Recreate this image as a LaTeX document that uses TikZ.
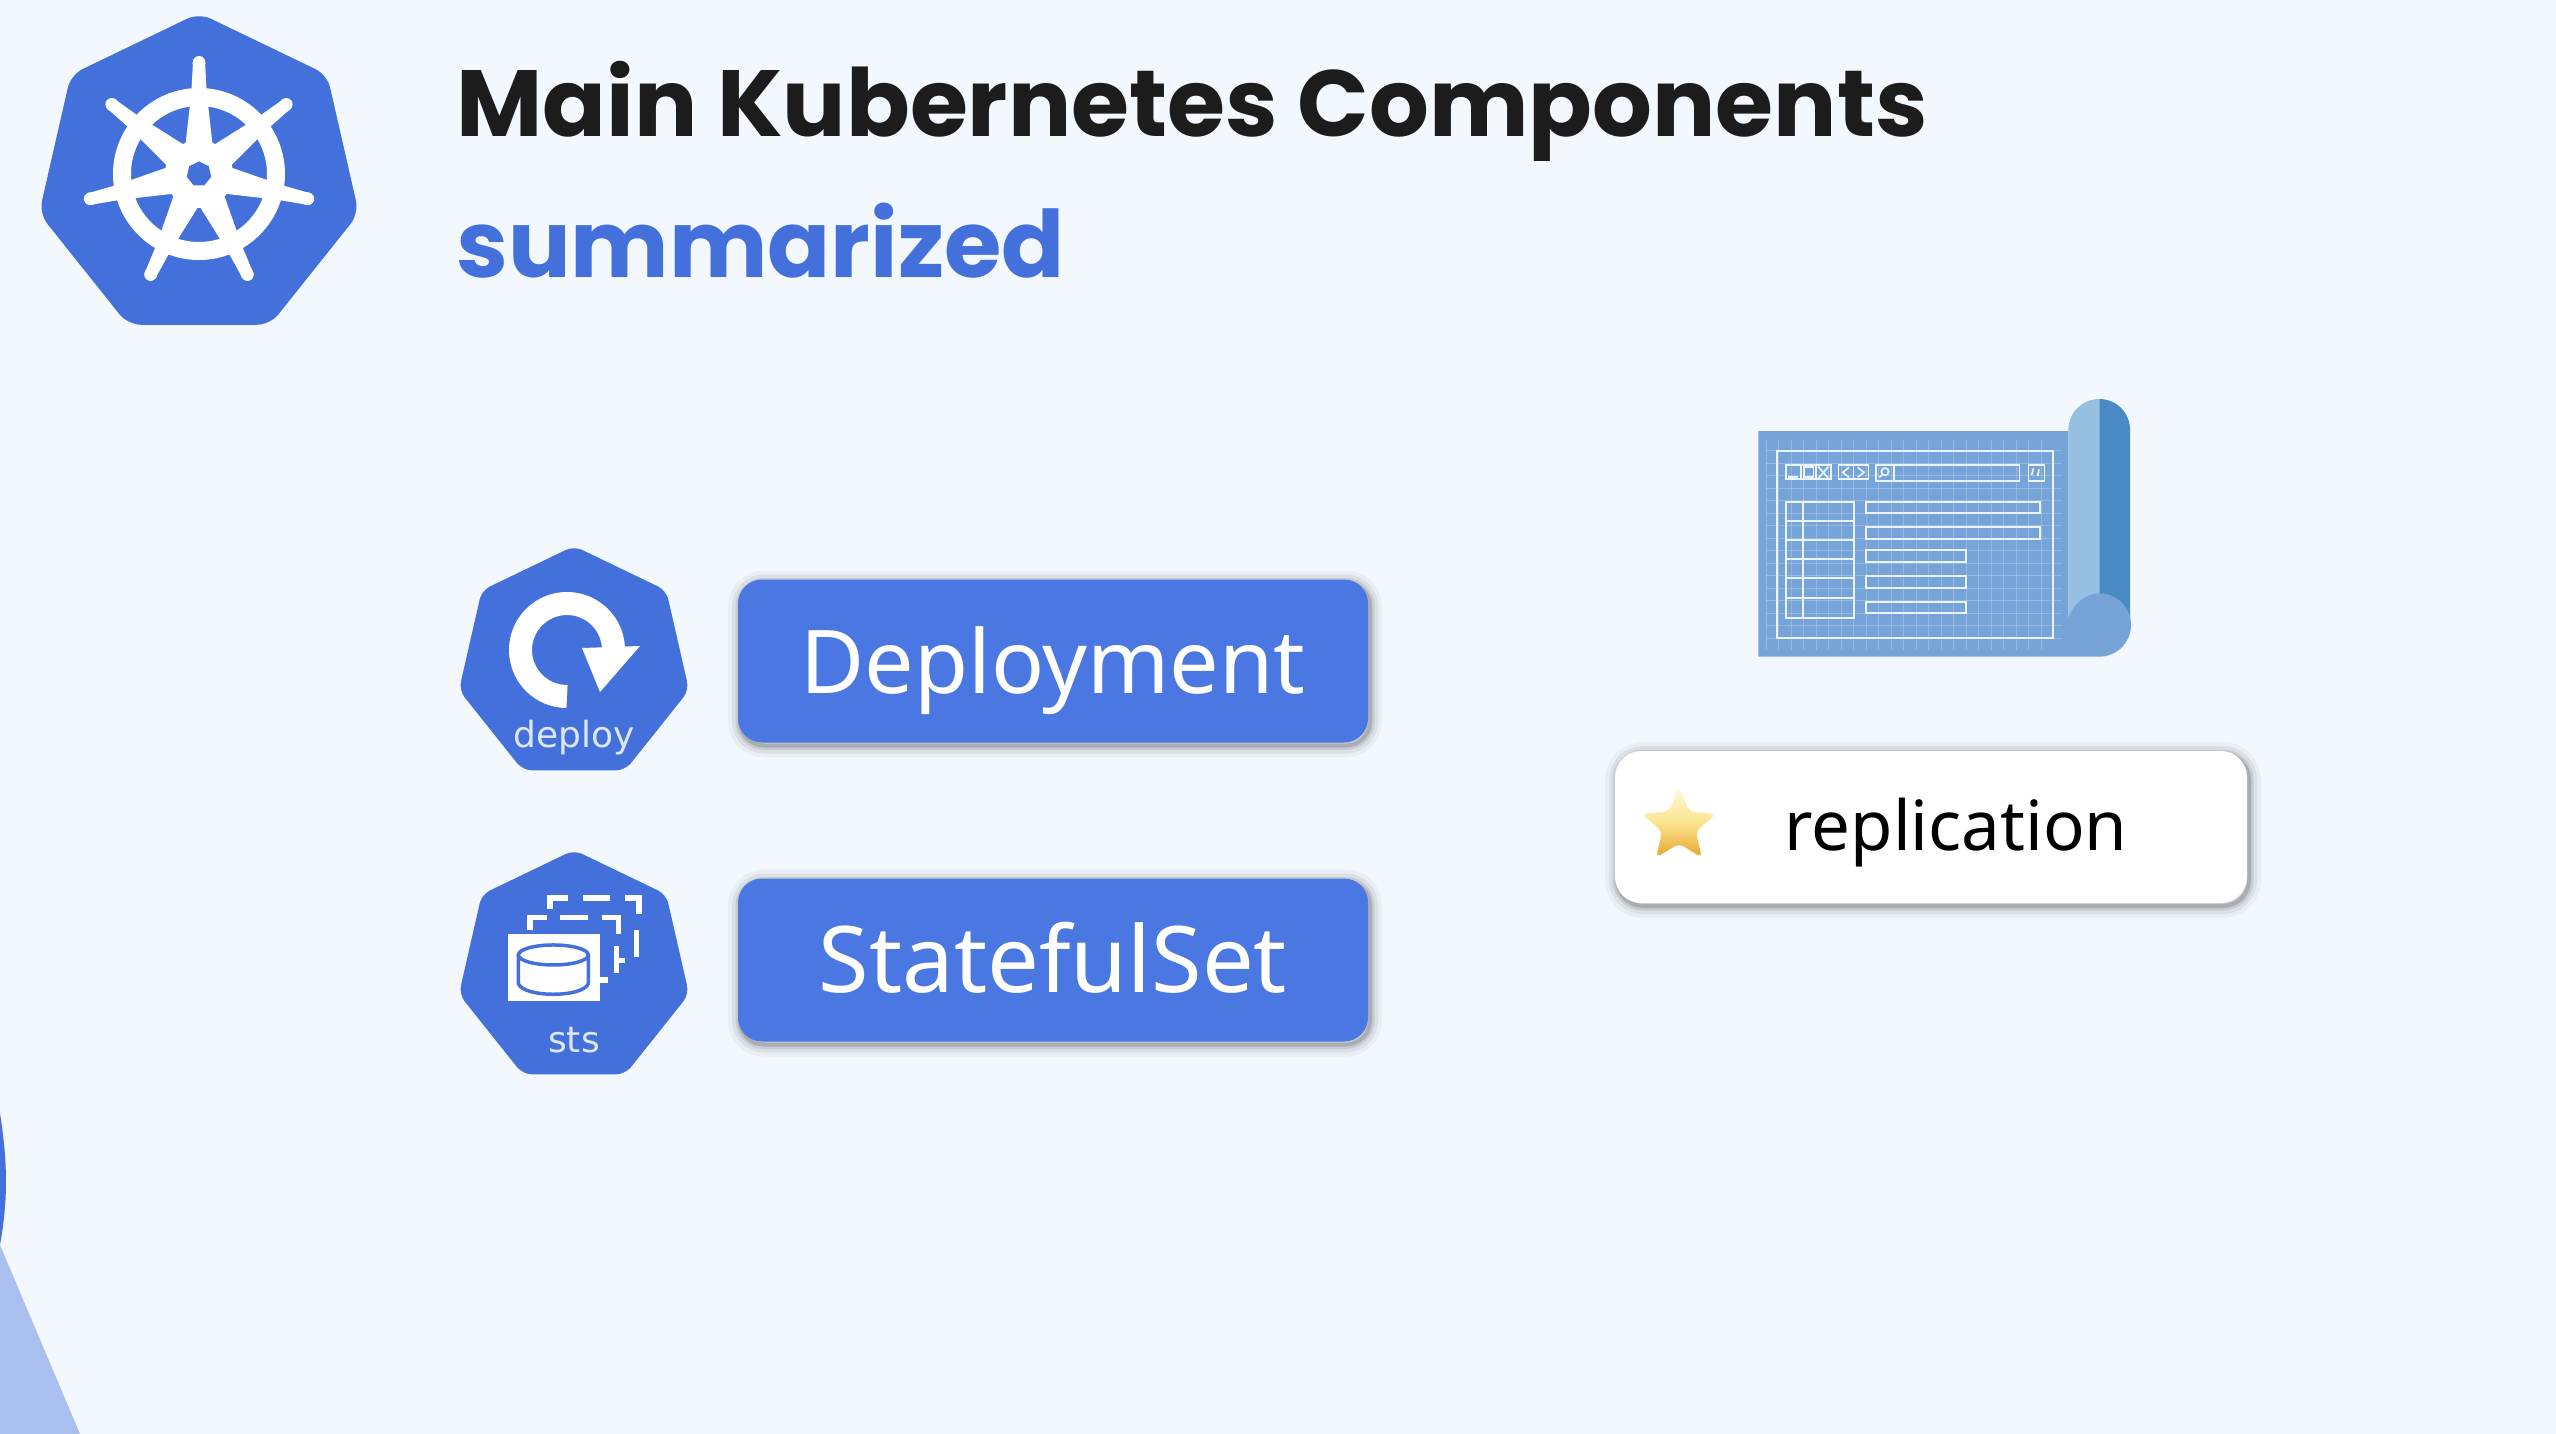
\documentclass[tikz,border=0pt]{standalone}
\usepackage{fontspec}
\usepackage{xcolor}
\usepackage{tikz}
\usetikzlibrary{positioning, calc, shapes.geometric}
\newfontfamily\titlefont{Poppins}
\newfontfamily\labelfont{Noto Sans}
\newfontfamily\iconfont{DejaVu Sans}
\definecolor{pagebg}{HTML}{F3F8FF}
\definecolor{kubeblue}{HTML}{4470DC}
\definecolor{btnblue}{HTML}{4A77E2}
\definecolor{titledark}{HTML}{1C1C1C}
\definecolor{iconlabel}{HTML}{DDE7FB}
\definecolor{sheetblue}{HTML}{76A3D8}
\definecolor{rolllight}{HTML}{95C0E0}
\definecolor{rolldark}{HTML}{4A8AC4}
\definecolor{gridline}{HTML}{EAF4FD}
\definecolor{sidelight}{HTML}{A9BFF0}
\definecolor{starpale}{HTML}{FDF9DC}
\definecolor{starmid}{HTML}{FBE58F}
\definecolor{stargold}{HTML}{E5A52B}
\tikzset{
	heptnode/.style={regular polygon, regular polygon sides=7, fill=kubeblue, inner sep=0pt, rounded corners=#1},
	softshadow/.style={
		preaction={draw=black, draw opacity=.04, line width=24pt, transform canvas={xshift=2pt, yshift=-3pt}},
		preaction={draw=black, draw opacity=.06, line width=16pt, transform canvas={xshift=2pt, yshift=-3pt}},
		preaction={draw=black, draw opacity=.09, line width=9pt, transform canvas={xshift=2pt, yshift=-3pt}},
		preaction={draw=black, draw opacity=.14, line width=4pt, transform canvas={xshift=2pt, yshift=-3pt}}},
	btnbox/.style={softshadow, rounded corners=24pt, fill=btnblue, text=white, inner sep=0pt, minimum width=630pt, minimum height=163pt, text height=70pt, text depth=5pt, font=\labelfont\fontsize{#1}{88}\selectfont},
	iconlabeltext/.style={text=iconlabel, inner sep=0pt, font=\iconfont\fontsize{36}{36}\selectfont},
	printline/.style={draw=gridline, line width=1.7pt},
	gridfaint/.style={draw=white, line width=1pt, opacity=.22},
	stsline/.style={draw=white, line width=5.5pt},
}
\begin{document}
\begin{tikzpicture}[x=1pt, y=-1pt]
	\fill[pagebg] (0,0) rectangle (2556,1434);
	\useasboundingbox (0,0) rectangle (2556,1434);

	\fill[kubeblue] (0,1113) .. controls (8,1165) and (8,1200) .. (0,1245) -- cycle;
	\fill[sidelight] (0,1245) -- (80,1434) -- (0,1434) -- cycle;

	\node[heptnode=13pt, minimum size=328pt] at (199,177) (logo) {};
	\begin{scope}[shift={(199,174)}]
		\draw[white, line width=18pt] (0,0) circle[radius=77];
		\fill[white] (0,0) circle[radius=34];
		\foreach \a in {0,...,6} {
			\begin{scope}[rotate=\a*360/7]
				\fill[white] (-14,-25) -- (-9,-70) -- (-7.5,-85) -- (-6,-112) arc[start angle=180, end angle=360, radius=6] -- (7.5,-85) -- (9,-70) -- (14,-25) -- cycle;
				\fill[white] (0,-111) circle[radius=6.5];
			\end{scope}
		}
	\end{scope}
	\node[regular polygon, regular polygon sides=7, fill=kubeblue, inner sep=0pt, minimum size=25pt] at (199,174) (hub) {};

	\node[anchor=base west, inner sep=0pt, text=titledark, font=\titlefont\bfseries\fontsize{94}{94}\selectfont] at (456,137) (title) {Main Kubernetes Components};
	\node[anchor=base west, inner sep=0pt, text=kubeblue, font=\titlefont\bfseries\fontsize{93}{93}\selectfont] at (456,277) (subtitle) {summarized};

	\node[heptnode=9pt, minimum size=236pt] at (574,664) (deploy) {};
	\draw[white, line width=23pt] ([shift={(90:46.5)}]567,650) arc[start angle=90, end angle=358, radius=46.5];
	\fill[white] (582,648) -- (640,646) -- (600,692) -- cycle;
	\node[iconlabeltext] at (574,738) (deploylabel) {deploy};

	\node[heptnode=9pt, minimum size=236pt] at (574,968) (sts) {};
	\begin{scope}[shift={(440,530)}, xscale=1/3, yscale=1/2.8]
		\draw[stsline] (270,1120) -- (270,1085) -- (320,1085);
		\draw[stsline] (360,1085) -- (445,1085);
		\draw[stsline] (485,1085) -- (535,1085) -- (535,1130);
		\draw[stsline] (530,1165) -- (530,1240);
		\draw[stsline] (530,1205) -- (555,1205);
		\draw[stsline] (480,1260) -- (505,1260);
		\draw[stsline] (330,1060) -- (330,1030) -- (385,1030);
		\draw[stsline] (430,1030) -- (510,1030);
		\draw[stsline] (555,1030) -- (597,1030) -- (597,1075);
		\draw[stsline] (590,1120) -- (590,1195);
		\fill[white] (205,1130) rectangle (480,1320);
		\draw[kubeblue, line width=3.5pt] (235,1190) -- (235,1270) .. controls (250,1310) and (430,1310) .. (445,1270) -- (445,1190);
		\draw[kubeblue, line width=3.5pt] (340,1190) ellipse[x radius=105, y radius=28];
	\end{scope}
	\node[iconlabeltext] at (574,1040) (stslabel) {sts};

	\node[btnbox=88] at (1053,661) (deployment) {Deployment};
	\node[btnbox=92] at (1053,960) (statefulset) {StatefulSet};

	\begin{scope}[shift={(1740,380)}, scale=1/3]
		\fill[rolllight] (985,735) -- (985,150) arc[start angle=180, end angle=270, radius=93] -- (1078,735) -- cycle;
		\fill[rolldark] (1078,57) arc[start angle=270, end angle=360, radius=92] -- (1170,735) -- (1078,735) -- cycle;
		\fill[sheetblue] (55,153) -- (985,153) -- (985,715) .. controls (1000,670) and (1040,640) .. (1078,640) arc[start angle=270, end angle=450, radius=95] -- (55,830) -- cycle;
		\foreach \k in {0,...,22}
			\draw[gridfaint] (78+37.5*\k,180) -- (78+37.5*\k,810);
		\foreach \k in {0,...,15}
			\draw[gridfaint] (78,212+37.5*\k) -- (965,212+37.5*\k);
		\draw[printline, line width=2pt] (110,213) rectangle (938,775);
		\draw[printline] (137,255) rectangle (272,298);
		\draw[printline] (183,255) -- (183,298) (228,255) -- (228,298);
		\draw[printline] (145,290) -- (175,290);
		\draw[printline] (192,262) rectangle (220,290);
		\draw[printline] (235,260) -- (265,295) (265,260) -- (235,295);
		\draw[printline] (295,255) rectangle (385,298);
		\draw[printline] (340,255) -- (340,298);
		\draw[printline] (327,262) -- (308,277) -- (327,292) (353,262) -- (372,277) -- (353,292);
		\draw[printline] (408,255) rectangle (838,302);
		\draw[printline] (462,255) -- (462,302);
		\draw[printline] (435,275) circle[radius=11] (427,284) -- (418,292);
		\draw[printline] (865,255) rectangle (913,302);
		\draw[printline] (880,265) -- (875,285) (897,268) -- (893,288);
		\draw[printline] (137,365) rectangle (342,713);
		\draw[printline] (188,365) -- (188,713);
		\foreach \y in {422,480,537,595,655}
			\draw[printline] (137,\y) -- (342,\y);
		\draw[printline] (378,365) rectangle (900,400);
		\draw[printline] (378,442) rectangle (900,478);
		\draw[printline] (378,510) rectangle (678,545);
		\draw[printline] (378,587) rectangle (678,625);
		\draw[printline] (378,665) rectangle (678,700);
	\end{scope}

	\node[softshadow, rounded corners=26pt, fill=white, inner sep=0pt, minimum width=632pt, minimum height=152pt] at (1931,827) (replicationbox) {};
	\node[anchor=base, inner sep=0pt, text=black, font=\labelfont\fontsize{69}{69}\selectfont] at (1956,850) (replication) {replication};
	\node[star, star points=5, star point ratio=2.2, inner sep=0pt, minimum size=78pt, rounded corners=5pt, top color=starpale, bottom color=stargold, middle color=starmid] at (1679,826) (starmark) {};
\end{tikzpicture}
\end{document}
